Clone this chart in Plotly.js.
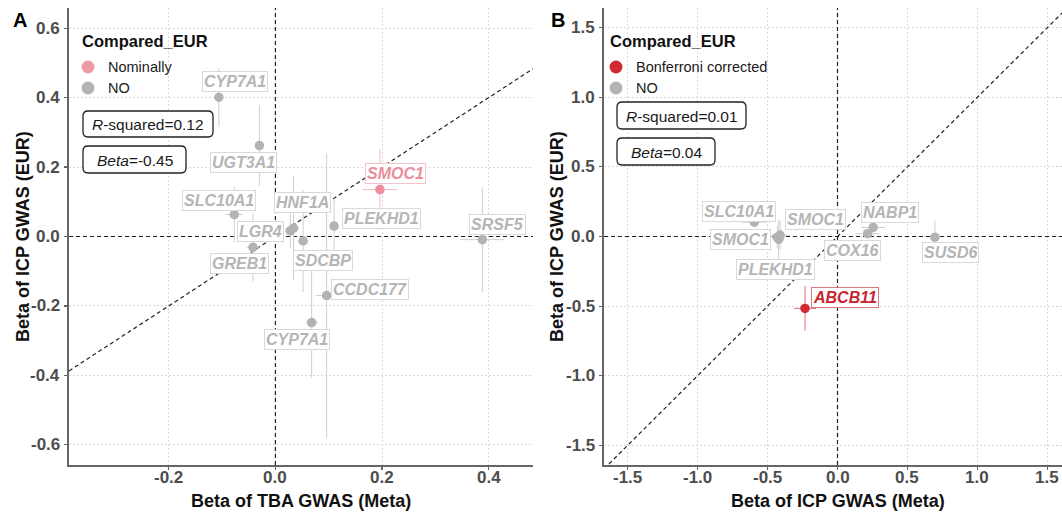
<!DOCTYPE html>
<html><head><meta charset="utf-8">
<script src="https://cdn.plot.ly/plotly-3.0.1.min.js"></script>
<style>html,body{margin:0;padding:0;overflow:hidden;background:#fff}#chart{width:1075px;height:513px}</style>
</head><body><div id="chart"></div>
<script>
// ---------------- Panel A data ----------------
const genesA  = ['CYP7A1','UGT3A1','SLC10A1','HNF1A','LGR4','GREB1','SDCBP','PLEKHD1','SMOC1','SRSF5','CCDC177','CYP7A1'];
const betaTBA = [-0.106,-0.030,-0.077,0.034,0.028,-0.042,0.052,0.110,0.196,0.388,0.096,0.068];
const betaEUR_A = [0.401,0.262,0.063,0.024,0.016,-0.031,-0.013,0.030,0.135,-0.009,-0.170,-0.248];
const seTBA   = [0.0,0.0,0.016,0.010,0.010,0.012,0.010,0.0,0.0325,0.041,0.020,0.012];
const seEUR_A = [0.085,0.117,0.080,0.150,0.050,0.098,0.147,0.080,0.115,0.151,0.410,0.160];
const groupA  = ['NO','NO','NO','NO','NO','NO','NO','NO','Nominally','NO','NO','NO'];
const statsA  = {rsq:'0.12', beta:'-0.45'};
const xTickValsA = [-0.2,0,0.2,0.4];
const xTickTextA = ['-0.2','0.0','0.2','0.4'];
const yTickValsA = [-0.6,-0.4,-0.2,0,0.2,0.4,0.6];
const yTickTextA = ['-0.6','-0.4','-0.2','0.0','0.2','0.4','0.6'];

// ---------------- Panel B data ----------------
const genesB  = ['SLC10A1','SMOC1','SMOC1','PLEKHD1','COX16','NABP1','SUSD6','ABCB11'];
const betaMeta = [-0.594,-0.410,-0.430,-0.420,0.215,0.255,0.696,-0.232];
const betaEUR_B = [0.103,0.010,-0.005,-0.020,0.020,0.065,-0.005,-0.516];
const seMeta  = [0.090,0.070,0.050,0.040,0.085,0.085,0.020,0.080];
const seEUR_B = [0.020,0.100,0.080,0.140,0.030,0.040,0.120,0.160];
const groupB  = ['NO','NO','NO','NO','NO','NO','NO','Bonferroni corrected'];
const statsB  = {rsq:'0.01', beta:'0.04'};
const tickValsB = [-1.5,-1.0,-0.5,0,0.5,1.0,1.5];
const tickTextB = ['-1.5','-1.0','-0.5','0.0','0.5','1.0','1.5'];

// ---------------- layout helpers ----------------
const W = 1075, H = 513, MT = 8, MB = 48, PH = H - MT - MB;
const px2x = px => px / W;
const px2y = py => (H - MB - py) / PH;
const FONT = 'Liberation Sans, Arial, sans-serif';
const rangeAx = [-0.387, 0.483], rangeAy = [-0.658, 0.658];
const rangeBx = [-1.668, 1.668], rangeBy = [-1.64, 1.64];

// label centre positions (ggrepel placement)
const labelPosA = [[-0.076,0.447],[-0.060,0.213],[-0.106,0.104],[0.051,0.097],[-0.028,0.015],[-0.067,-0.077],
                   [0.089,-0.069],[0.198,0.052],[0.226,0.182],[0.417,0.035],[0.177,-0.153],[0.040,-0.296]];
const labelPosB = [[-0.704,0.181],[-0.155,0.122],[-0.696,-0.019],[-0.446,-0.234],[0.107,-0.10],[0.373,0.172],
                   [0.804,-0.117],[0.054,-0.44]];

const colors = {
  'NO': {pt:'#b3b3b3', bar:'#cfcfcf', txt:'#b5b5b5', border:'#d9d9d9'},
  'Nominally': {pt:'#ec8e9d', bar:'#f3bcc4', txt:'#ea8e9c', border:'#f1c3ca'},
  'Bonferroni corrected': {pt:'#d12a33', bar:'#df6d73', txt:'#c7262f', border:'#dc7a7f'}
};

function makeTraces(xs, ys, ex, ey, groups, order, xa, ya){
  const out = [];
  order.forEach(g => {
    const idx = groups.map((v,i)=> v===g ? i : -1).filter(i=>i>=0);
    if(!idx.length) return;
    const c = colors[g];
    out.push({
      type:'scatter', mode:'markers', xaxis:xa, yaxis:ya, showlegend:false, hoverinfo:'skip',
      x: idx.map(i=>xs[i]), y: idx.map(i=>ys[i]),
      marker:{color:c.pt, size:9.5, line:{width:0}},
      error_x:{type:'data', array: idx.map(i=>ex[i]), visible:true, width:0, thickness:1, color:c.bar},
      error_y:{type:'data', array: idx.map(i=>ey[i]), visible:true, width:0, thickness:1, color:c.bar}
    });
  });
  return out;
}

const data = [
  ...makeTraces(betaTBA, betaEUR_A, seTBA, seEUR_A, groupA, ['NO','Nominally'], 'x', 'y'),
  ...makeTraces(betaMeta, betaEUR_B, seMeta, seEUR_B, groupB, ['NO','Bonferroni corrected'], 'x2', 'y2')
];

const annotations = [];
const shapes = [];

function geneLabels(genes, groups, pos, xr, yr){
  genes.forEach((g,i)=>{
    const c = colors[groups[i]];
    annotations.push({xref:xr, yref:yr, x:pos[i][0], y:pos[i][1], text:g, showarrow:false,
      font:{family:FONT, size:16, color:c.txt, weight:'bold', style:'italic'},
      bgcolor:'rgba(255,255,255,1)', bordercolor:c.border, borderwidth:1, borderpad:1,
      xanchor:'center', yanchor:'middle'});
  });
}
geneLabels(genesA, groupA, labelPosA, 'x', 'y');
geneLabels(genesB, groupB, labelPosB, 'x2', 'y2');

// tick labels placed on the axes' own scales
const tickFont = {family:FONT, size:17, color:'#4d4d4d', weight:'bold'};
function xTickLabels(vals, texts, xr){
  vals.forEach((v,i)=> annotations.push({xref:xr, yref:'paper', x:v, y:px2y(477), text:texts[i], showarrow:false,
    xanchor:'center', yanchor:'middle', font:tickFont}));
}
function yTickLabels(vals, texts, yr, axisPx){
  vals.forEach((v,i)=> annotations.push({xref:'paper', yref:yr, x:px2x(axisPx-7), y:v, text:texts[i], showarrow:false,
    xanchor:'right', yanchor:'middle', font:tickFont}));
}
xTickLabels(xTickValsA, xTickTextA, 'x');
yTickLabels(yTickValsA, yTickTextA, 'y', 69);
xTickLabels(tickValsB, tickTextB, 'x2');
yTickLabels(tickValsB, tickTextB, 'y2', 604);

// reference dashed lines
function refLines(xr, yr, rx, ry){
  const ln = {color:'#222', width:1.2, dash:'4px,3px'};
  shapes.push({type:'line', xref:xr, yref:yr, x0:rx[0], x1:rx[1], y0:0, y1:0, line:ln, layer:'between'});
  shapes.push({type:'line', xref:xr, yref:yr, x0:0, x1:0, y0:ry[0], y1:ry[1], line:ln, layer:'between'});
  shapes.push({type:'line', xref:xr, yref:yr, x0:rx[0], x1:rx[1], y0:rx[0], y1:rx[1], line:ln, layer:'between'});
}
refLines('x','y', rangeAx, rangeAy);
refLines('x2','y2', rangeBx, rangeBy);

function rrPath(w,h,r){
  const a=w/2,b=h/2;
  return `M${-a+r},${-b} L${a-r},${-b} Q${a},${-b} ${a},${-b+r} L${a},${b-r} Q${a},${b} ${a-r},${b} L${-a+r},${b} Q${-a},${b} ${-a},${b-r} L${-a},${-b+r} Q${-a},${-b} ${-a+r},${-b} Z`;
}
function statBox(x0, x1, y0, y1, text){
  const cx = (x0+x1)/2, cy = (y0+y1)/2;
  shapes.push({type:'path', xref:'paper', yref:'paper', xsizemode:'pixel', ysizemode:'pixel',
    xanchor:px2x(cx), yanchor:px2y(cy), path:rrPath(x1-x0, y1-y0, 5),
    line:{color:'#222', width:1.3}, fillcolor:'#fff', layer:'above'});
  annotations.push({xref:'paper', yref:'paper', x:px2x(cx), y:px2y(cy+0.5), text:text, showarrow:false,
    xanchor:'center', yanchor:'middle', font:{family:FONT, size:15.5, color:'#1a1a1a'}});
}
function legendBlock(x, label, colHi){
  annotations.push({xref:'paper', yref:'paper', x:px2x(x), y:px2y(41), text:'Compared_EUR', showarrow:false,
    xanchor:'left', yanchor:'middle', font:{family:FONT, size:16.5, color:'#111', weight:'bold'}});
  [[67, label, colHi],[88,'NO','#b3b3b3']].forEach(([py, t, col])=>{
    shapes.push({type:'circle', xref:'paper', yref:'paper', xsizemode:'pixel', ysizemode:'pixel',
      xanchor:px2x(x+8), yanchor:px2y(py), x0:-6.5, x1:6.5, y0:-6.5, y1:6.5,
      fillcolor:col, line:{width:0}, layer:'above'});
    annotations.push({xref:'paper', yref:'paper', x:px2x(x+26), y:px2y(py), text:t, showarrow:false,
      xanchor:'left', yanchor:'middle', font:{family:FONT, size:14.5, color:'#1a1a1a'}});
  });
}
legendBlock(80, 'Nominally', '#ee9aa7');
legendBlock(608, 'Bonferroni corrected', '#d12a33');
statBox(83, 213, 111, 137, '<i>R</i>-squared=' + statsA.rsq);
statBox(83, 186, 146, 173, '<i>Beta</i>=' + statsA.beta);
statBox(617, 746, 102, 129, '<i>R</i>-squared=' + statsB.rsq);
statBox(617, 715, 138, 165, '<i>Beta</i>=' + statsB.beta);

// titles & panel letters
const titleFont = {family:FONT, size:18, color:'#111', weight:'bold'};
annotations.push({xref:'paper', yref:'paper', x:px2x(301), y:px2y(501), text:'Beta of TBA GWAS (Meta)', showarrow:false, xanchor:'center', yanchor:'middle', font:titleFont});
annotations.push({xref:'paper', yref:'paper', x:px2x(837.5), y:px2y(501), text:'Beta of ICP GWAS (Meta)', showarrow:false, xanchor:'center', yanchor:'middle', font:titleFont});
annotations.push({xref:'paper', yref:'paper', x:px2x(23), y:px2y(237), text:'Beta of ICP GWAS (EUR)', showarrow:false, textangle:-90, xanchor:'center', yanchor:'middle', font:titleFont});
annotations.push({xref:'paper', yref:'paper', x:px2x(557), y:px2y(237), text:'Beta of ICP GWAS (EUR)', showarrow:false, textangle:-90, xanchor:'center', yanchor:'middle', font:titleFont});
annotations.push({xref:'paper', yref:'paper', x:px2x(20), y:px2y(20), text:'A', showarrow:false, xanchor:'center', yanchor:'middle', font:{family:FONT, size:20, color:'#000', weight:'bold'}});
annotations.push({xref:'paper', yref:'paper', x:px2x(558), y:px2y(20), text:'B', showarrow:false, xanchor:'center', yanchor:'middle', font:{family:FONT, size:20, color:'#000', weight:'bold'}});

const axisBase = {
  showline:true, linecolor:'#666', linewidth:1.6, ticks:'outside', ticklen:3, tickwidth:1.2, tickcolor:'#666',
  showticklabels:false,
  showgrid:true, gridcolor:'#d9d9d9', gridwidth:1, griddash:'2px,2px', zeroline:false, fixedrange:true
};

const layout = {
  width:W, height:H, margin:{l:0, r:0, t:MT, b:MB, pad:0},
  paper_bgcolor:'#fff', plot_bgcolor:'#fff', showlegend:false,
  xaxis:Object.assign({}, axisBase, {domain:[px2x(69), px2x(533)], range:rangeAx, tickmode:'array', tickvals:xTickValsA, anchor:'y'}),
  yaxis:Object.assign({}, axisBase, {domain:[0,1], range:rangeAy, tickmode:'array', tickvals:yTickValsA, anchor:'x'}),
  xaxis2:Object.assign({}, axisBase, {domain:[px2x(604), px2x(1071)], range:rangeBx, tickmode:'array', tickvals:tickValsB, anchor:'y2'}),
  yaxis2:Object.assign({}, axisBase, {domain:[0,1], range:rangeBy, tickmode:'array', tickvals:tickValsB, anchor:'x2'}),
  annotations:annotations, shapes:shapes
};

Plotly.newPlot('chart', data, layout, {staticPlot:true, displayModeBar:false});
</script></body></html>
